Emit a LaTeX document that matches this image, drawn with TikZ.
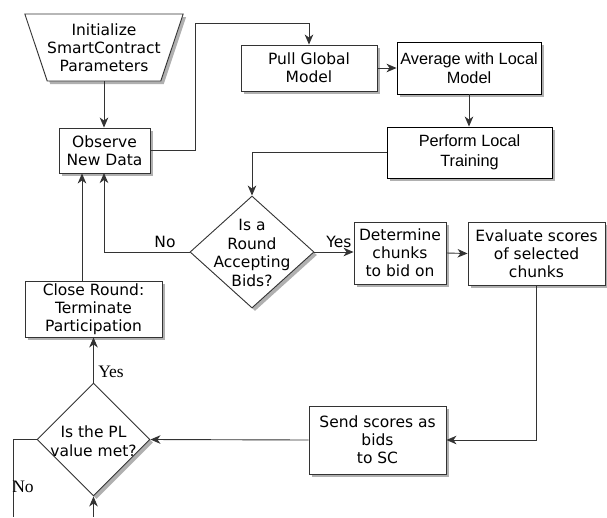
\documentclass[tikz,border=0pt]{standalone}
\usepackage{fontspec}
\setmainfont{DejaVu Sans}
\newfontfamily\arialf{Liberation Sans}
\newfontfamily\timesf{Liberation Serif}
\usetikzlibrary{shapes.geometric,arrows.meta,shadows}
\definecolor{linec}{HTML}{333333}
\definecolor{shadowc}{HTML}{B0B0B0}
\tikzset{
  shad/.style={drop shadow={shadow xshift=3pt, shadow yshift=-3pt, fill=shadowc, opacity=1}},
  box/.style={draw=linec, fill=white, line width=0.9pt, shad, inner sep=0pt, align=center,
              font=\fontsize{15.5}{18}\selectfont},
  abox/.style={box, draw=black, font=\arialf\fontsize{16.3}{19.5}\selectfont},
  dia/.style={diamond, draw=linec, fill=white, line width=0.9pt, shad, inner sep=0pt},
  dtext/.style={align=center, inner sep=0pt, font=\fontsize{15.5}{18.5}\selectfont},
  arr/.style={draw=linec, line width=0.9pt, -{Stealth[length=10pt,width=8.5pt,inset=3pt]}},
  ln/.style={draw=linec, line width=0.9pt},
  lbl/.style={inner sep=0pt, font=\fontsize{15.5}{18}\selectfont},
  slbl/.style={inner sep=0pt, font=\timesf\fontsize{17.5}{20}\selectfont},
}
\begin{document}
\begin{tikzpicture}[x=1pt,y=-1pt]
\useasboundingbox (0,0) rectangle (607,517);
% nodes
\node[trapezium, trapezium stretches=true, shape border rotate=180,
      trapezium left angle=65, trapezium right angle=65,
      minimum width=158pt, minimum height=67pt, box] (init) at (104,47.5)
      {Initialize\\SmartContract\\Parameters};
\node[box, minimum width=91pt, minimum height=45pt] (obs) at (104.5,150.5) {Observe\\New Data};
\node[box, minimum width=136pt, minimum height=46pt] (pull) at (309,68) {Pull Global\\Model};
\node[abox, minimum width=144pt, minimum height=52pt] (avg) at (469,68) {Average with Local\\Model};
\node[abox, minimum width=165pt, minimum height=51pt] (perf) at (469.5,152.5) {Perform Local\\Training};
\node[dia, minimum width=124pt, minimum height=112pt] (d1) at (252,252) {};
\node[dtext] (d1t) at (252,253) {Is a\\Round\\Accepting\\Bids?};
\node[box, minimum width=92pt, minimum height=62pt] (det) at (400,253) {Determine\\chunks\\to bid on};
\node[box, minimum width=137pt, minimum height=63pt] (eval) at (536.5,253.5) {Evaluate scores\\of selected\\chunks};
\node[box, minimum width=137pt, minimum height=56pt] (close) at (93.5,309) {Close Round:\\Terminate\\Participation};
\node[dia, minimum width=113pt, minimum height=113pt] (d2) at (93.5,439.5) {};
\node[dtext] (d2t) at (93.5,441) {Is the PL\\value met?};
\node[box, minimum width=137pt, minimum height=68pt] (send) at (377.5,440) {Send scores as\\bids\\to SC};
\coordinate (botA) at (93.5,517);
\coordinate (botB) at (13,517);
% connectors
\draw[arr] (init.south) -- (obs.north -| init.south);
\draw[arr] (obs.east) -- (195,150.5) -- (195,23) -- (309,23) -- (pull.north);
\draw[arr] (pull.east) -- (avg.west);
\draw[arr] (avg.south) -- (avg.south |- perf.north);
\draw[arr] (perf.west) -- (d1.north |- perf.west) -- (d1.north);
\draw[arr] (d1.west) -- (104,252) -- (104,173);
\draw[arr] ([xshift=-11.5pt]close.north) -- ([xshift=-11.5pt]close.north |- obs.south);
\draw[arr] (d1.east) -- (det.west |- d1.east);
\draw[arr] (det.east) -- (eval.west);
\draw[arr] (eval.south) -- (eval.south |- send.east) -- (send.east);
\draw[arr] (send.west) -- (d2.east);
\draw[arr] (d2.north) -- (close.south);
\draw[ln] (d2.west) -- (botB |- d2.west) -- (botB);
\draw[arr] (botA) -- (d2.south);
% labels
\node[lbl] at (165,242) {No};
\node[lbl] at (339,242) {Yes};
\node[slbl] at (111,372) {Yes};
\node[slbl] at (23,487) {No};
\end{tikzpicture}
\end{document}
